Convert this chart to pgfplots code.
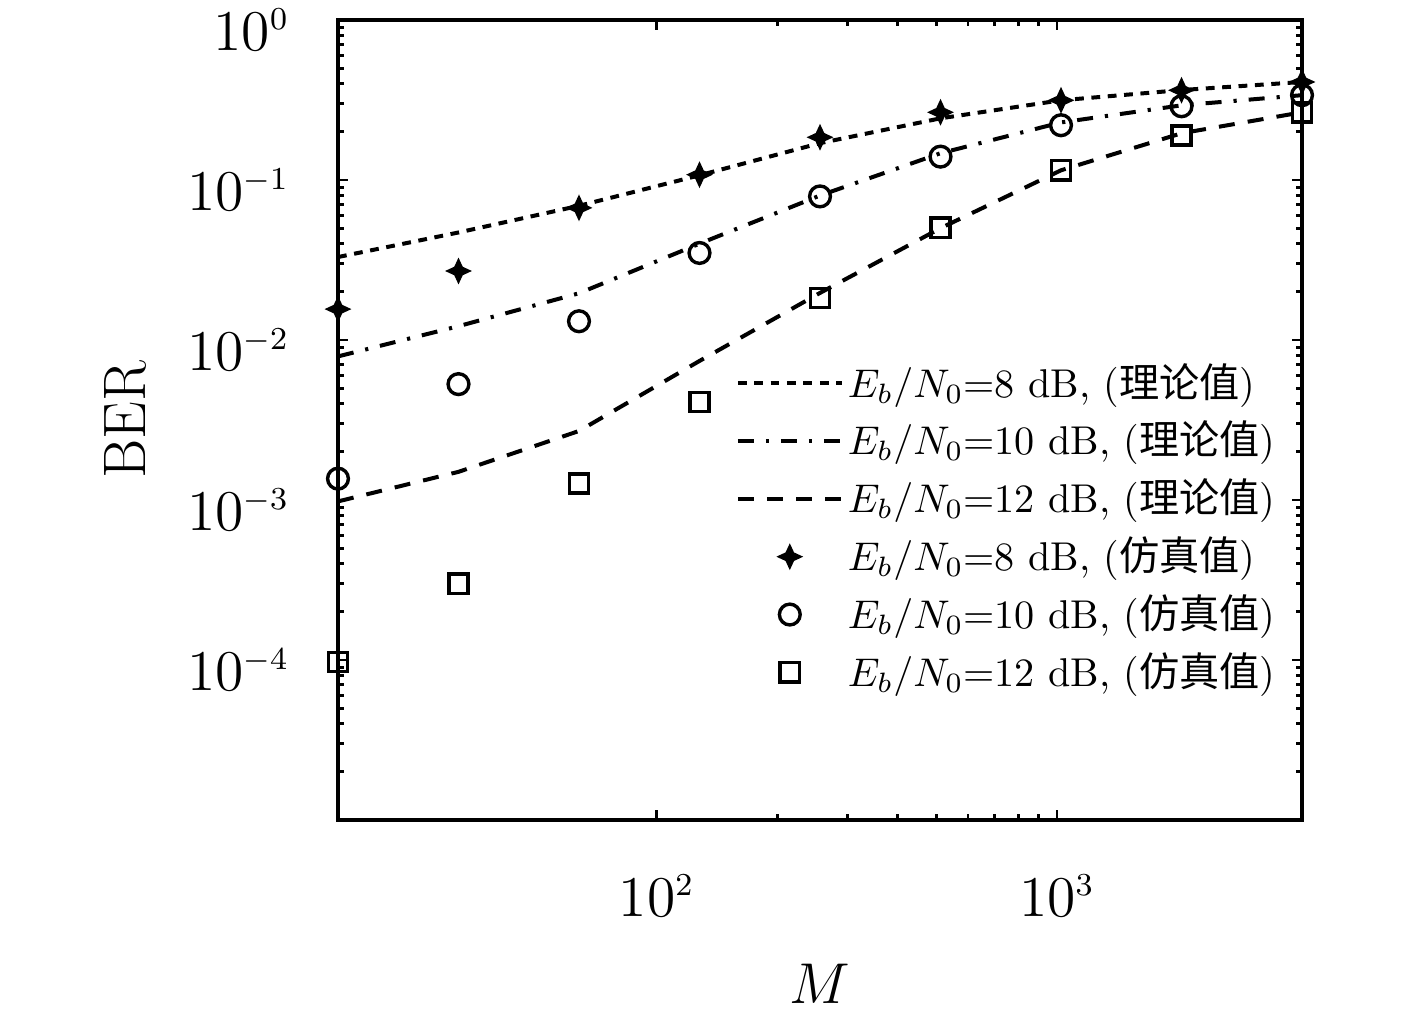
\documentclass[border=0pt]{standalone}
\usepackage{fontspec}
\usepackage{pgfplots}
\pgfplotsset{compat=1.18}
\newfontfamily\cjk{Noto Sans CJK SC}
\makeatletter
\pgfdeclareplotmark{star4}{%
  \pgfpathmoveto{\pgfqpoint{0pt}{1.2\pgfplotmarksize}}%
  \pgfpathlineto{\pgfqpoint{0.38\pgfplotmarksize}{0.38\pgfplotmarksize}}%
  \pgfpathlineto{\pgfqpoint{1.2\pgfplotmarksize}{0pt}}%
  \pgfpathlineto{\pgfqpoint{0.38\pgfplotmarksize}{-0.38\pgfplotmarksize}}%
  \pgfpathlineto{\pgfqpoint{0pt}{-1.2\pgfplotmarksize}}%
  \pgfpathlineto{\pgfqpoint{-0.38\pgfplotmarksize}{-0.38\pgfplotmarksize}}%
  \pgfpathlineto{\pgfqpoint{-1.2\pgfplotmarksize}{0pt}}%
  \pgfpathlineto{\pgfqpoint{-0.38\pgfplotmarksize}{0.38\pgfplotmarksize}}%
  \pgfpathclose
  \pgfusepathqfillstroke}
\makeatother
\begin{document}
\begin{tikzpicture}
\useasboundingbox (-84.5pt,-47.25pt) rectangle (269.75pt,205pt);
\begin{axis}[
  at={(0,0)}, anchor=south west,
  scale only axis, width=241pt, height=200pt,
  xmode=log, ymode=log,
  xmin=16, xmax=4096, ymin=1e-5, ymax=1,
  xtick={100,1000},
  xticklabels={$10^{\scriptscriptstyle 2}$,$10^{\scriptscriptstyle 3}$},
  ytick={1e-5,1e-4,1e-3,1e-2,1e-1,1},
  yticklabels={{},$10^{\scriptscriptstyle -4}$,$10^{\scriptscriptstyle -3}$,$10^{\scriptscriptstyle -2}$,$10^{\scriptscriptstyle -1}$,$10^{\scriptscriptstyle 0}$},
  tick label style={font=\fontsize{15.5}{18}\selectfont},
  xticklabel style={anchor=center, yshift=-19pt},
  yticklabel style={anchor=east, inner sep=0pt, xshift=-12pt, yshift=-2.5pt},
  axis line style={line width=1.1pt},
  major tick length=2.5pt, minor tick length=1.4pt,
  every tick/.style={black, line width=0.7pt},
  xlabel={$M$}, ylabel={BER},
  label style={font=\fontsize{15}{18}\selectfont},
  xlabel style={at={(axis description cs:0.5,0)}, anchor=center, yshift=-41pt},
  ylabel style={at={(axis description cs:-0.22,0.5)}, anchor=center},
  legend style={draw=none, fill=none, at={(0.99,0.592)}, anchor=north east,
    font=\fontsize{10.05}{12.2}\selectfont, row sep=0.5pt,
    nodes={inner xsep=1pt}},
  legend cell align=left,
  legend image code/.code={\draw[mark repeat=2,mark phase=2,#1] plot coordinates {(0pt,0pt) (13pt,0pt) (26pt,0pt)};},
]
\addplot[black, mark=none, line width=1pt, dash pattern=on 2.2pt off 1.9pt] coordinates {
(16,0.033) (32,0.047) (64,0.069) (128,0.107) (256,0.17) (512,0.243) (1024,0.315) (2048,0.365) (4096,0.41)};
\addlegendentry{$E_b/N_0$=8 dB, ({\cjk 理论值})}
\addplot[black, mark=none, line width=1pt, dash pattern=on 4pt off 3pt on 0.8pt off 3pt] coordinates {
(16,0.0079) (32,0.0122) (64,0.0196) (128,0.04) (256,0.08) (512,0.147) (1024,0.229) (2048,0.293) (4096,0.339)};
\addlegendentry{$E_b/N_0$=10 dB, ({\cjk 理论值})}
\addplot[black, mark=none, line width=1pt, dash pattern=on 4pt off 3.3pt] coordinates {
(16,0.00098) (32,0.0015) (64,0.0027) (128,0.0074) (256,0.0197) (512,0.05) (1024,0.115) (2048,0.196) (4096,0.265)};
\addlegendentry{$E_b/N_0$=12 dB, ({\cjk 理论值})}
\addplot[black, only marks, mark=star4, mark size=2.3pt, mark options={line width=0.5pt}] coordinates {
(16,0.0156) (32,0.027) (64,0.067) (128,0.108) (256,0.185) (512,0.265) (1024,0.315) (2048,0.364) (4096,0.41)};
\addlegendentry{$E_b/N_0$=8 dB, ({\cjk 仿真值})}
\addplot[black, only marks, mark=o, mark size=2.6pt, mark options={line width=0.85pt}] coordinates {
(16,0.00136) (32,0.0053) (64,0.0131) (128,0.035) (256,0.079) (512,0.14) (1024,0.22) (2048,0.289) (4096,0.339)};
\addlegendentry{$E_b/N_0$=10 dB, ({\cjk 仿真值})}
\addplot[black, only marks, mark=square, mark size=2.4pt, mark options={line width=0.85pt}] coordinates {
(16,9.7e-5) (32,3.0e-4) (64,0.00127) (128,0.0041) (256,0.0183) (512,0.0504) (1024,0.115) (2048,0.19) (4096,0.265)};
\addlegendentry{$E_b/N_0$=12 dB, ({\cjk 仿真值})}
\end{axis}
\end{tikzpicture}
\end{document}
